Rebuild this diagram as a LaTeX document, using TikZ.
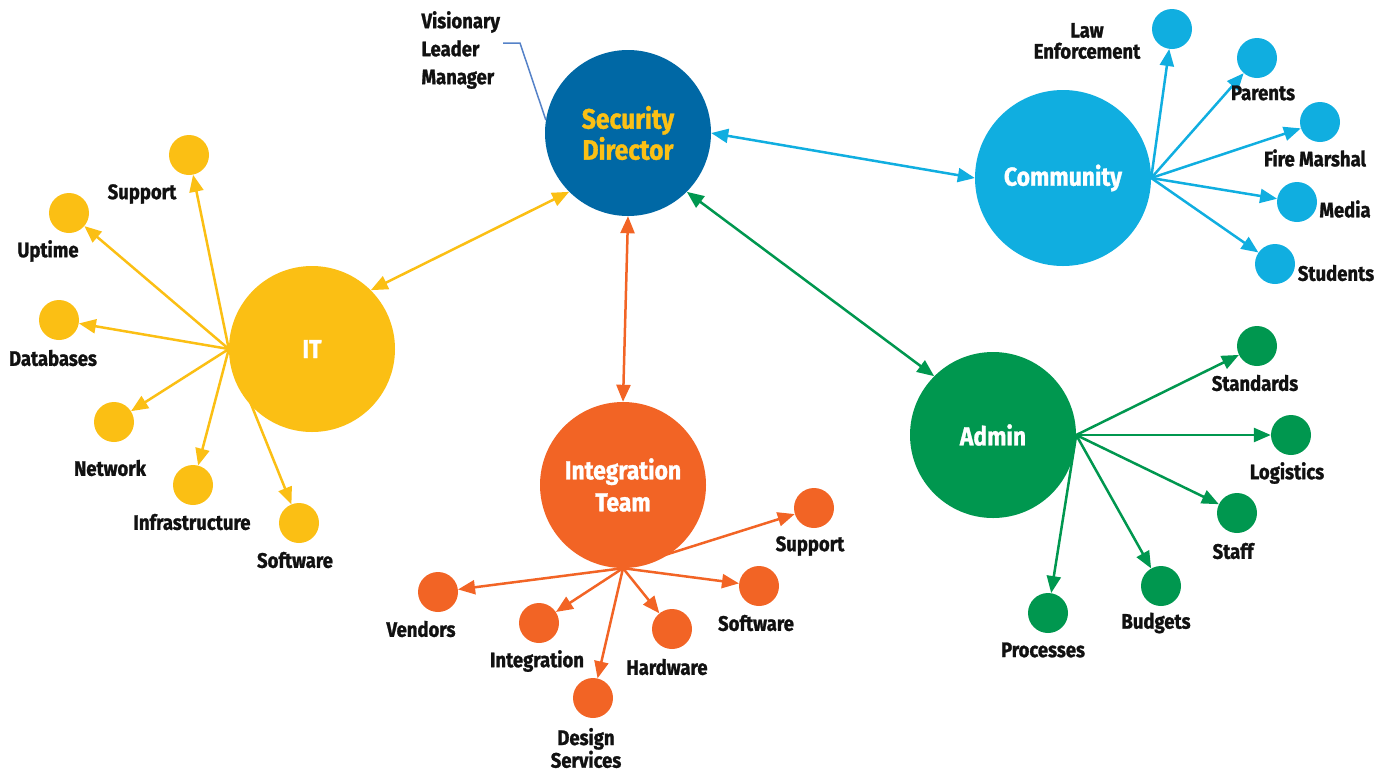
\documentclass[tikz,border=0pt]{standalone}
\usepackage{fontspec}
\setmainfont{Fira Sans}[FakeStretch=0.88, FakeBold=1.2]
\usetikzlibrary{arrows.meta}
\usetikzlibrary{backgrounds}

\definecolor{secblue}{HTML}{0068A5}
\definecolor{secgold}{HTML}{FBC015}
\definecolor{comblue}{HTML}{10AEE0}
\definecolor{ityellow}{HTML}{FBBF14}
\definecolor{intorange}{HTML}{F26425}
\definecolor{admgreen}{HTML}{00974F}
\definecolor{calloutblue}{HTML}{5582C8}
\definecolor{lblblack}{HTML}{111111}

\begin{document}
\begin{tikzpicture}[x=1pt, y=-1pt, >={Triangle[length=17pt, width=14pt]},
    hub/.style={circle, minimum size=166pt, inner sep=0pt, align=center, text=white,
        font=\fontsize{26}{32}\selectfont\bfseries},
    leaf/.style={circle, minimum size=40pt, inner sep=0pt},
    lbl/.style={font=\fontsize{21}{21}\selectfont\bfseries, text=lblblack, align=center},
    spoke/.style={->, line width=2.5pt},
    link/.style={<->, line width=2.5pt}]

\useasboundingbox (0,0) rectangle (1388,772);

% Hubs
\node[hub, fill=secblue, text=secgold, font=\fontsize{28}{31}\selectfont\bfseries] (sec) at (628,133) {Security\\Director};
\node[hub, fill=comblue, minimum size=176pt] (com) at (1063,178) {Community};
\node[hub, fill=ityellow] (it) at (312,349) {IT};
\node[hub, fill=intorange] (int) at (623,485) {Integration\\Team};
\node[hub, fill=admgreen] (adm) at (993,435) {Admin};

% Role callout
\node[lbl, align=left, anchor=west, font=\fontsize{21}{28}\selectfont\bfseries] (role) at (418,50) {Visionary\\Leader\\Manager};
\coordinate (rolept) at (503,43);
\draw[calloutblue, line width=1.5pt] (rolept) -- ++(17,0) -- (sec.171);

% IT leaves
\node[leaf, fill=ityellow] (itsup) at (189,155) {};
\node[leaf, fill=ityellow] (itupt) at (69,213) {};
\node[leaf, fill=ityellow] (itdb) at (59,320) {};
\node[leaf, fill=ityellow] (itnet) at (114,422) {};
\node[leaf, fill=ityellow] (itinf) at (193,485) {};
\node[leaf, fill=ityellow] (itsw) at (299,523) {};
\node[lbl] (itsupl) at (142,194) {Support};
\node[lbl] (ituptl) at (48,251) {Uptime};
\node[lbl] (itdbl) at (53,358) {Databases};
\node[lbl] (itnetl) at (110,468) {Network};
\node[lbl] (itinfl) at (192,522) {Infrastructure};
\node[lbl] (itswl) at (295,560) {Software};

% Community leaves
\node[leaf, fill=comblue] (comlaw) at (1172,29) {};
\node[leaf, fill=comblue] (compar) at (1257,58) {};
\node[leaf, fill=comblue] (comfire) at (1320,122) {};
\node[leaf, fill=comblue] (commed) at (1297,202) {};
\node[leaf, fill=comblue] (comstu) at (1275,264) {};
\node[lbl] (comlawl) at (1087,41) {Law\\Enforcement};
\node[lbl] (comparl) at (1263,93) {Parents};
\node[lbl] (comfirel) at (1315,158) {Fire Marshal};
\node[lbl] (commedl) at (1345,209) {Media};
\node[lbl] (comstul) at (1336,273) {Students};

% Integration leaves
\node[leaf, fill=intorange] (intsup) at (814,508) {};
\node[leaf, fill=intorange] (intsw) at (759,586) {};
\node[leaf, fill=intorange] (inthw) at (672,629) {};
\node[leaf, fill=intorange] (intdes) at (593,698) {};
\node[leaf, fill=intorange] (intint) at (539,623) {};
\node[leaf, fill=intorange] (intven) at (438,592) {};
\node[lbl] (intsupl) at (810,546) {Support};
\node[lbl] (intswl) at (756,623) {Software};
\node[lbl] (inthwl) at (667,667) {Hardware};
\node[lbl] (intdesl) at (586,748) {Design\\Services};
\node[lbl] (intintl) at (537,661) {Integration};
\node[lbl] (intvenl) at (421,629) {Vendors};

% Admin leaves
\node[leaf, fill=admgreen] (admstd) at (1257,346) {};
\node[leaf, fill=admgreen] (admlog) at (1291,435) {};
\node[leaf, fill=admgreen] (admstf) at (1237,513) {};
\node[leaf, fill=admgreen] (admbud) at (1161,586) {};
\node[leaf, fill=admgreen] (admpro) at (1048,613) {};
\node[lbl] (admstdl) at (1255,383) {Standards};
\node[lbl] (admlogl) at (1287,473) {Logistics};
\node[lbl] (admstfl) at (1233,551) {Staff};
\node[lbl] (admbudl) at (1156,623) {Budgets};
\node[lbl] (admprol) at (1043,650) {Processes};

\begin{scope}[on background layer]
% Links between hubs
\draw[link, ityellow] (sec.-135) -- (it.45);
\draw[link, intorange] (sec.-90) -- (int.90);
\draw[link, comblue] (sec.east) -- (com.west);
\draw[link, admgreen] (sec.-45) -- (adm.135);

% Spokes
\foreach \leaf in {itsup, itupt, itdb, itnet, itinf, itsw}
    \draw[spoke, ityellow] (it.west) -- (\leaf);
\foreach \leaf in {comlaw, compar, comfire, commed, comstu}
    \draw[spoke, comblue] (com.east) -- (\leaf);
\foreach \leaf in {intsup, intsw, inthw, intdes, intint, intven}
    \draw[spoke, intorange] (int.south) -- (\leaf);
\foreach \leaf in {admstd, admlog, admstf, admbud, admpro}
    \draw[spoke, admgreen] (adm.east) -- (\leaf);
\end{scope}

\end{tikzpicture}
\end{document}
